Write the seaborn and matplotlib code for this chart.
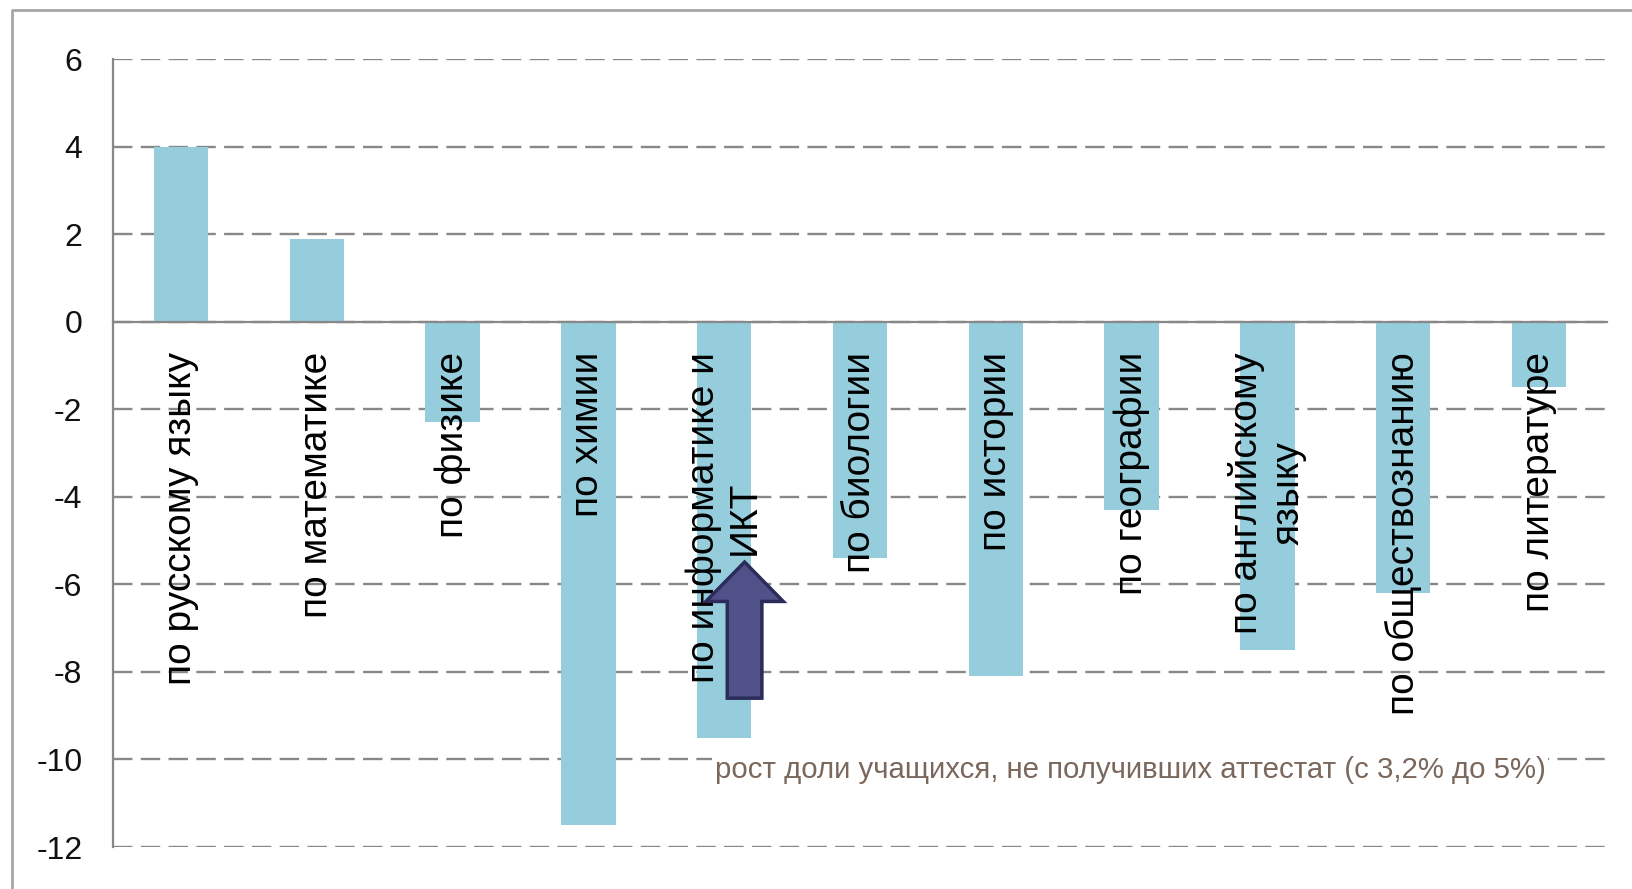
import matplotlib
matplotlib.use("Agg")
import matplotlib.pyplot as plt
import seaborn as sns
import pandas as pd
from matplotlib import font_manager
from matplotlib.patches import FancyArrow
from matplotlib.lines import Line2D

# данные: изменение результатов по предметам
subjects = ["по русскому языку", "по математике", "по физике", "по химии",
            "по информатике и\nИКТ", "по биологии", "по истории", "по географии",
            "по английскому\nязыку", "по обществознанию", "по литературе"]
changes = [4.0, 1.9, -2.3, -11.5, -9.5, -5.4, -8.1, -4.3, -7.5, -6.2, -1.5]
y_ticks = [-12, -10, -8, -6, -4, -2, 0, 2, 4, 6]
note_text = "рост доли учащихся, не получивших аттестат (с 3,2% до 5%)"

sns.set_style("white")
plt.rcParams['font.family'] = ['Liberation Sans', 'DejaVu Sans']
plt.rcParams['axes.unicode_minus'] = False
plt.rcParams['lines.scale_dashes'] = False

names = {f.name for f in font_manager.fontManager.ttflist}
if 'Liberation Sans Narrow' in names:
    note_family, note_size = ['Liberation Sans Narrow', 'DejaVu Sans'], 26
else:
    note_family, note_size = ['Liberation Sans', 'DejaVu Sans'], 21.2

df = pd.DataFrame({"subject": subjects, "change": changes})

fig = plt.figure(figsize=(16.33, 8.89), dpi=100)
ax = fig.add_axes([0.0692, 0.0472, 0.9149, 0.8864])

sns.barplot(data=df, x="subject", y="change", order=subjects, color="#96CDDC",
            saturation=1, width=0.4, linewidth=0, ax=ax, zorder=2)

grey = "#888888"
ax.set_ylim(-12, 6)
ax.set_xlim(-0.5, len(subjects) - 0.5)
ax.set_yticks(y_ticks)
ax.set_xlabel("")
ax.set_ylabel("")
ax.set_axisbelow(True)
ax.yaxis.grid(True, color=grey, linewidth=1.7, linestyle=(0, (14, 6)))
ax.xaxis.grid(False)

for side in ["top", "right"]:
    ax.spines[side].set_visible(False)
ax.spines["left"].set_color(grey)
ax.spines["left"].set_linewidth(1.6)
ax.spines["bottom"].set_position(("data", 0))
ax.spines["bottom"].set_color(grey)
ax.spines["bottom"].set_linewidth(1.6)
ax.spines["bottom"].set_zorder(3)

ax.tick_params(axis="y", direction="out", length=8, width=1.6, color=grey,
               labelsize=23, labelcolor="#111111", pad=14)
ax.set_xticks(range(len(subjects)))
ax.set_xticklabels([])
ax.tick_params(axis="x", which="major", length=0)
ax.set_xticks([i + 0.5 for i in range(len(subjects))], minor=True)
ax.tick_params(axis="x", which="minor", direction="in", length=9, width=1.6, color=grey)

# подписи категорий внутри поля графика
for i, name in enumerate(subjects):
    ax.text(i, -0.69, name, rotation=90, ha="center", va="top",
            multialignment="center", fontsize=28, color="black", zorder=4)

# стрелка и пояснение
arrow = FancyArrow(4.15, -8.6, 0, 3.11, width=0.255, head_width=0.57, head_length=0.9,
                   length_includes_head=True, facecolor="#4f5188", edgecolor="#2b2c5a",
                   linewidth=2.5, zorder=5)
ax.add_patch(arrow)
ax.text(3.93, -10.24, note_text, ha="left", va="center", fontsize=note_size,
        family=note_family, color="#7b685d", zorder=6,
        bbox=dict(facecolor="white", edgecolor="none", pad=2))

# рамка диаграммы
fig.add_artist(Line2D([12 / 1633, 12 / 1633, 1], [0, 1 - 10 / 889, 1 - 10 / 889],
                      transform=fig.transFigure, color="#a6a6a6", linewidth=2))

fig.savefig("out.png", dpi=100)
